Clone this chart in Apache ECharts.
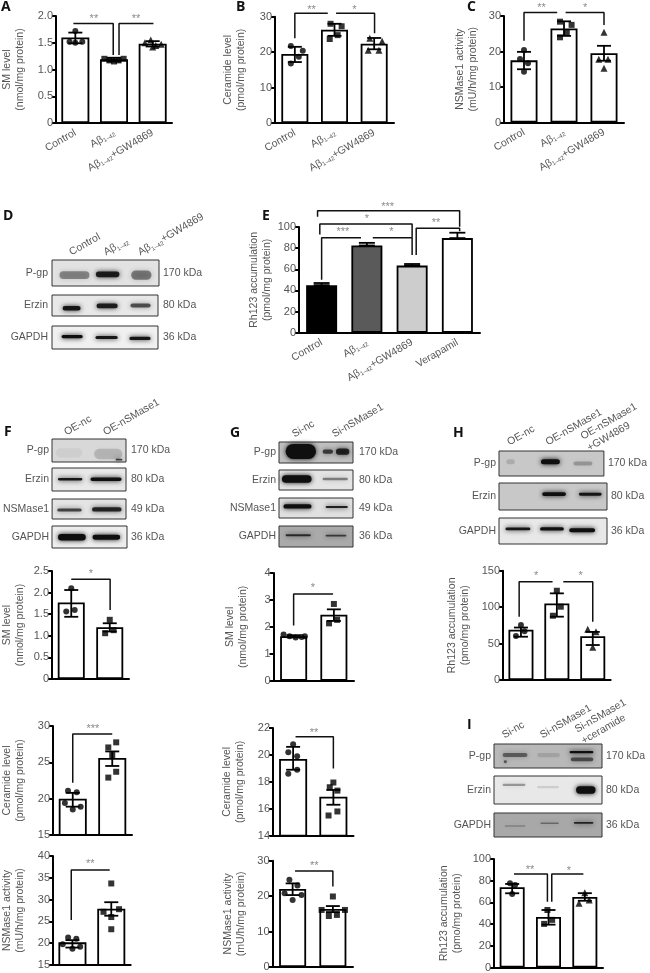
<!DOCTYPE html>
<html><head><meta charset="utf-8">
<style>html,body{margin:0;padding:0;background:#fff}#c{width:650px;height:973px;filter:blur(0.35px)}</style>
<script src="https://cdn.jsdelivr.net/npm/echarts@6/dist/echarts.min.js"></script>
</head><body><div id="c"></div>
<script>
// ---------- categories ----------
const catsAbeta = ['Control','Aβ1–42','Aβ1–42+GW4869'];
const catsE = ['Control','Aβ1–42','Aβ1–42+GW4869','Verapamil'];
const catsF = ['OE-nc','OE-nSMase1'];
const catsG = ['Si-nc','Si-nSMase1'];
const catsH = ['OE-nc','OE-nSMase1','OE-nSMase1\n+GW4869'];
const catsI = ['Si-nc','Si-nSMase1','Si-nSMase1\n+ceramide'];

// ---------- series values: bars, error [group,low,high], points [x,y], brackets [[x,y]...], stars [x,y,text] ----------
const aBars=[1.6,1.19,1.48];
const aErr=[[0,1.49,1.69],[1,1.15,1.22],[2,1.43,1.53]];
const aPts=[[[0,1.72],[-.15,1.52],[.18,1.52],[0,1.5]],[[.75,1.2],[.88,1.17],[1,1.15],[1.12,1.17],[1.25,1.2]],[[1.8,1.5],[1.95,1.55],[2.08,1.45],[2.22,1.47],[2,1.42]]];
const aBrk=[[[-.05,1.86],[.98,1.86],[.98,1.27]],[[1.13,1.27],[1.13,1.86],[2.02,1.86]]];
const aStars=[[.48,1.98,'**'],[1.57,1.98,'**']];

const bBars=[19.5,26.3,22.4];
const bErr=[[0,17.2,21.5],[1,24.6,28],[2,20.8,24]];
const bPts=[[[-.1,21.7],[.2,20.4],[.1,18.7],[-.1,16.8]],[[.9,28],[1.18,27.3],[1.08,24.8],[.88,23.7]],[[1.89,23.9],[2.2,23.1],[1.85,20.5],[2.12,20.5]]];
const bBrk=[[[0,23.9],[0,31],[.83,31]],[[1.04,31],[2.01,31],[2.01,25.3]]];
const bStars=[[.42,32.6,'**'],[1.5,32.6,'*']];

const cBars=[17.5,26.5,19.5];
const cErr=[[0,15,19.9],[1,24.4,28.5],[2,17.4,21.6]];
const cPts=[[[0,20.4],[-.1,17.9],[.1,16.7],[0,14.3]],[[.9,28.4],[1.19,27.5],[1.07,25.3],[.9,24]],[[2,25.4],[1.87,17.8],[2.1,17.8],[2,15.3]]];
const cBrk=[[[0,23],[0,31],[.83,31]],[[1.04,31],[2,31],[2,27.5]]];
const cStars=[[.44,32.8,'**'],[1.53,32.8,'*']];

const eBars=[45,82.5,63.5,89.5];
const eErr=[[0,45,47],[1,82.5,85],[2,63.5,65],[3,89.5,94.6]];
const eBrk=[[[0,50],[0,89.9],[.87,89.9]],[[1.13,89.9],[2,89.9],[2,73.5]],[[-.04,93],[-.04,102.8],[2,102.8],[2,90]],[[2.09,73.5],[2.09,98.8],[3.05,98.8],[3.05,96]],[[-.09,109.8],[-.09,115.4],[3.05,115.4],[3.05,100.3]]];
const eStars=[[1.46,120.8,'***'],[1,109.8,'*'],[.47,97,'***'],[1.54,97,'*'],[2.53,105.7,'**']];

const fSmBars=[1.77,1.2];
const fSmErr=[[0,1.44,2.06],[1,1.1,1.29]];
const fSmPts=[[[0,2.1],[-.13,1.56],[.09,1.6]],[[1,1.37],[.88,1.06],[1.1,1.13]]];
const fSmBrk=[[[0,2.31],[1.01,2.31],[1.01,1.6]]];
const fSmStars=[[.51,2.47,'*']];

const gSmBars=[1.65,2.45];
const gSmErr=[[0,1.61,1.69],[1,2.22,2.65]];
const gSmPts=[[[-.25,1.72],[-.1,1.65],[.05,1.6],[.2,1.62],[.28,1.65]],[[1,2.85],[.88,2.13],[1.08,2.26]]];
const gSmBrk=[[[0,2.05],[0,3.22],[.98,3.22]]];
const gSmStars=[[.48,3.53,'*']];

const fCerBars=[20,25.6];
const fCerErr=[[0,18.9,20.8],[1,24.5,26.5]];
const fCerPts=[[[-.12,21.1],[.1,20.9],[-.2,19.4],[.2,18.9],[0,18.5]],[[1.1,27.75],[.9,27.05],[1,26],[1.1,23.7],[.9,22.9]]];
const fCerBrk=[[[0,22.2],[0,28.9],[1,28.9]]];
const fCerStars=[[.51,29.9,'***']];

const gCerBars=[19.7,16.9];
const gCerErr=[[0,18.9,20.6],[1,16.3,17.4]];
const gCerPts=[[[0,20.8],[-.12,20.2],[.1,19.9],[.1,18.9],[-.12,18.6]],[[1,17.95],[.91,17.6],[1.1,17.35],[1.1,15.8],[.88,15.5]]];
const gCerBrk=[[[.06,21.35],[1,21.35],[1,19]]];
const gCerStars=[[.52,21.8,'**']];

const fNsmBars=[20.2,27.9];
const fNsmErr=[[0,19,20.7],[1,26.3,29.4]];
const fNsmPts=[[[-.11,21.3],[.1,21],[-.25,19.75],[.2,19.2],[0,18.7]],[[1,33.7],[.8,27.2],[1.2,27.8],[1,26],[1,23.2]]];
const fNsmBrk=[[[-.03,25.3],[-.03,36.8],[.96,36.8]]];
const fNsmStars=[[.46,38.6,'**']];

const gNsmBars=[22,16.4];
const gNsmErr=[[0,20.3,23.6],[1,15.5,17.2]];
const gNsmPts=[[[-.08,24.6],[.12,23],[-.2,20.8],[.22,20.3],[0,18.9]],[[1,19.9],[.72,16.1],[1.3,16.1],[.9,14.4],[1.1,14.7]]];
const gNsmBrk=[[[.06,27.1],[1,27.1],[1,22.7]]];
const gNsmStars=[[.54,29.1,'**']];

const hBars=[69,105,60];
const hErr=[[0,59.4,72],[1,86.9,118.9],[2,48,66]];
const hPts=[[[0,75.4],[.1,67],[-.14,60.3]],[[1,122.5],[1.11,100.6],[.89,88.2]],[[1.86,69.5],[2.09,66.3],[2,44.8]]];
const hBrk=[[[-.05,86.8],[-.05,134.9],[.88,134.9]],[[1.18,134.9],[2,134.9],[2,80]]];
const hStars=[[.42,145,'*'],[1.66,145,'*']];

const iBars=[74,46.5,65];
const iErr=[[0,68.4,77],[1,39.5,53],[2,61.5,68.5]];
const iPts=[[[-.06,77.6],[.08,76],[0,67.8]],[[.97,53],[1.1,43.9],[.88,40.2]],[[2,69],[1.84,59.2],[2.12,62.3]]];
const iBrk=[[[.05,86.2],[.97,86.2],[.97,60.7]],[[1.09,60.7],[1.09,86.2],[1.96,86.2]]];
const iStars=[[.49,92,'**'],[1.56,90.5,'*']];

// ---------- western blot band readings: [x0,x1,y,thickness,darkness], all as fractions of the membrane ----------
const dPgp=[[.07,.35,.42,.3,.4],[.41,.63,.45,.22,.9],[.74,.93,.42,.36,.45]];
const dErz=[[.10,.27,.37,.22,.95],[.42,.62,.48,.22,.9],[.74,.93,.5,.18,.65]];
const dGap=[[.09,.29,.54,.14,1],[.41,.62,.5,.14,.95],[.73,.93,.46,.14,.95]];
const fPgp=[[.05,.41,.4,.4,.05],[.57,.95,.35,.45,.16],[.86,.95,.1,.08,.75]];
const fErz=[[.08,.41,.51,.1,.95],[.52,.94,.51,.15,1]];
const fNsm=[[.07,.40,.45,.15,.7],[.54,.94,.48,.22,.85]];
const fGap=[[.08,.45,.49,.3,1],[.54,.91,.49,.22,1]];
const gPgp=[[.09,.50,.55,.72,1],[.59,.73,.54,.2,.7],[.77,.95,.54,.3,.85]];
const gErz=[[.04,.44,.55,.38,1],[.59,.93,.55,.12,.45]];
const gNsm=[[.06,.44,.58,.22,1],[.63,.93,.55,.11,.9]];
const gGap=[[.09,.43,.56,.09,.8],[.63,.91,.54,.09,.7]];
const hPgp=[[.07,.15,.57,.2,.14],[.40,.58,.57,.2,1],[.71,.89,.5,.16,.25]];
const hErz=[[.40,.62,.59,.14,1],[.74,.95,.58,.11,.95]];
const hGap=[[.06,.29,.58,.1,.95],[.38,.60,.58,.12,1],[.65,.89,.53,.16,1]];
const iPgp=[[.08,.31,.54,.16,.5],[.09,.12,.26,.12,.55],[.40,.61,.54,.18,.12],[.70,.92,.66,.09,1],[.71,.92,.36,.16,.6]];
const iErz=[[.08,.29,.68,.08,.35],[.40,.60,.6,.08,.12],[.76,.94,.5,.26,1]];
const iGap=[[.10,.29,.46,.06,.25],[.43,.60,.57,.06,.4],[.74,.92,.59,.07,.85]];

// ---------- layout ----------
const FONT='"Liberation Sans",Arial,sans-serif', TXT='#555';
const SYMS=['circle','rect','triangle'];
const fmt1=v=>v===0?'0':v.toFixed(1), fmt0=v=>String(v);
const panels=[
 {L:52,R:172,T:16,B:123,min:0,max:2,iv:.5,fmt:fmt1,cats:catsAbeta,bars:aBars,err:aErr,pts:aPts,brk:aBrk,stars:aStars,bw:28,gap:29,name:'SM level\n(nmol/mg protein)',lab:true},
 {L:275,R:394,T:16.7,B:123,min:0,max:30,iv:10,fmt:fmt0,cats:catsAbeta,bars:bBars,err:bErr,pts:bPts,brk:bBrk,stars:bStars,bw:27,gap:27,name:'Ceramide level\n(pmol/mg protein)',lab:true},
 {L:504,R:624,T:16,B:122.5,min:0,max:30,iv:10,fmt:fmt0,cats:catsAbeta,bars:cBars,err:cErr,pts:cPts,brk:cBrk,stars:cStars,bw:27,gap:24,name:'NSMase1 activity\n(mU/h/mg protein)',lab:true},
 {L:299,R:480,T:227,B:332.7,min:0,max:100,iv:20,fmt:fmt0,cats:catsE,bars:eBars,err:eErr,brk:eBrk,stars:eStars,bw:31,gap:25,name:'Rh123 accumulation\n(pmol/mg protein)',lab:true,colors:['#000','#5a5a5a','#cdcdcd','#fff'],cap:8},
 {L:48.5,R:129,T:571,B:679,min:0,max:2.5,iv:.5,fmt:fmt1,cats:catsF,bars:fSmBars,err:fSmErr,pts:fSmPts,brk:fSmBrk,stars:fSmStars,bw:27,gap:25,name:'SM level\n(nmol/mg protein)'},
 {L:273.5,R:354,T:573,B:680.7,min:0,max:4,iv:1,fmt:fmt0,cats:catsG,bars:gSmBars,err:gSmErr,pts:gSmPts,brk:gSmBrk,stars:gSmStars,bw:27,gap:24,name:'SM level\n(nmol/mg protein)'},
 {L:503,R:610.7,T:570.7,B:680,min:0,max:150,iv:50,fmt:fmt0,cats:catsH,bars:hBars,err:hErr,pts:hPts,brk:hBrk,stars:hStars,bw:25,gap:31,name:'Rh123 accumulation\n(pmo/mg protein)'},
 {L:49.5,R:132,T:726,B:835,min:15,max:30,iv:5,fmt:fmt0,cats:catsF,bars:fCerBars,err:fCerErr,pts:fCerPts,brk:fCerBrk,stars:fCerStars,bw:28,gap:26,name:'Ceramide level\n(pmol/mg protein)'},
 {L:273,R:353.5,T:728,B:835.7,min:14,max:22,iv:2,fmt:fmt0,cats:catsG,bars:gCerBars,err:gCerErr,pts:gCerPts,brk:gCerBrk,stars:gCerStars,bw:28,gap:26,name:'Ceramide level\n(pmol/mg protein)'},
 {L:48,R:130.7,T:856,B:965,min:15,max:40,iv:5,fmt:fmt0,cats:catsF,bars:fNsmBars,err:fNsmErr,pts:fNsmPts,brk:fNsmBrk,stars:fNsmStars,bw:28,gap:26,name:'NSMase1 activity\n(mU/h/mg protein)'},
 {L:272.5,R:353,T:860.7,B:967,min:0,max:30,iv:10,fmt:fmt0,cats:catsG,bars:gNsmBars,err:gNsmErr,pts:gNsmPts,brk:gNsmBrk,stars:gNsmStars,bw:27,gap:25,name:'NSMase1 activity\n(mU/h/mg protein)'},
 {L:494,R:603,T:859,B:967.7,min:0,max:100,iv:20,fmt:fmt0,cats:catsI,bars:iBars,err:iErr,pts:iPts,brk:iBrk,stars:iStars,bw:25,gap:30,name:'Rh123 accumulation\n(pmo/mg protein)'}
];
const blots=[
 {x0:52,x1:159,y0:260,y1:286,bg:'#e2e2e2',name:'P-gp',kda:'170 kDa',bands:dPgp,lm:4,rm:4},
 {x0:52,x1:158,y0:295,y1:316,bg:'#e8e8e8',name:'Erzin',kda:'80 kDa',bands:dErz,lm:4,rm:5},
 {x0:52,x1:158,y0:326,y1:349,bg:'#f0f0f0',name:'GAPDH',kda:'36 kDa',bands:dGap,lm:4,rm:5},
 {x0:52,x1:126,y0:439,y1:462,bg:'#d8d8d8',name:'P-gp',kda:'170 kDa',bands:fPgp,lm:3,rm:5},
 {x0:52,x1:126,y0:468,y1:491,bg:'#e8e8e8',name:'Erzin',kda:'80 kDa',bands:fErz,lm:3,rm:5},
 {x0:52,x1:126,y0:499,y1:519,bg:'#e4e4e4',name:'NSMase1',kda:'49 kDa',bands:fNsm,lm:3,rm:5},
 {x0:52,x1:127,y0:526,y1:548,bg:'#eeeeee',name:'GAPDH',kda:'36 kDa',bands:fGap,lm:3,rm:4},
 {x0:279,x1:353,y0:442,y1:463,bg:'#c0c0c0',name:'P-gp',kda:'170 kDa',bands:gPgp,lm:3,rm:6},
 {x0:279,x1:353,y0:470,y1:490,bg:'#e4e4e4',name:'Erzin',kda:'80 kDa',bands:gErz,lm:3,rm:6},
 {x0:279,x1:353,y0:498,y1:518,bg:'#e0e0e0',name:'NSMase1',kda:'49 kDa',bands:gNsm,lm:3,rm:6},
 {x0:279,x1:353,y0:526,y1:547,bg:'#aaaaaa',name:'GAPDH',kda:'36 kDa',bands:gGap,lm:3,rm:6},
 {x0:499,x1:607,y0:451,y1:476,bg:'#c8c8c8',name:'P-gp',kda:'170 kDa',bands:hPgp,lm:3,rm:4},
 {x0:499,x1:607,y0:483,y1:510,bg:'#c8c8c8',name:'Erzin',kda:'80 kDa',bands:hErz,lm:3,rm:4},
 {x0:499,x1:607,y0:518,y1:544,bg:'#e8e8e8',name:'GAPDH',kda:'36 kDa',bands:hGap,lm:3,rm:4},
 {x0:494,x1:602,y0:744,y1:768,bg:'#b8b8b8',name:'P-gp',kda:'170 kDa',bands:iPgp,lm:3,rm:4},
 {x0:494,x1:602,y0:776,y1:804,bg:'#e8e8e8',name:'Erzin',kda:'80 kDa',bands:iErz,lm:3,rm:4},
 {x0:494,x1:602,y0:813,y1:837,bg:'#a8a8a8',name:'GAPDH',kda:'36 kDa',bands:iGap,lm:3,rm:4}
];
const laneHeads=[
 {left:53,width:103,top:253,cats:catsAbeta},
 {left:45.5,width:78,top:433,cats:catsF},
 {left:273,width:80,top:435,cats:catsG},
 {left:489,width:115,top:443,cats:catsH},
 {left:484,width:114,top:736,cats:catsI}
];
const letters=[['A',1,0],['B',236,0],['C',467,0],['D',3,209],['E',262,209],['F',4,425],['G',230,426],['H',453,426],['I',467,718]];

// ---------- option building ----------
const grid=[],xAxis=[],yAxis=[],series=[];
const rich={s:{fontSize:6,fontFamily:FONT,color:TXT,verticalAlign:'bottom',padding:[4,0,0,0]}};
const catFmt=v=>v.replace('1–42','{s|1–42}');

panels.forEach(p=>{
  const g=grid.length;
  grid.push({left:p.L,top:p.T,width:p.R-p.L,height:p.B-p.T,containLabel:false});
  const xc=xAxis.length, xv=xc+1, y=yAxis.length;
  xAxis.push({type:'category',gridIndex:g,data:p.cats,position:'bottom',
    axisLine:{lineStyle:{color:'#000',width:2}},axisTick:{alignWithLabel:true,length:4,lineStyle:{color:'#000',width:2}},
    axisLabel:{show:!!p.lab,interval:0,rotate:30,margin:9,fontSize:10.5,fontFamily:FONT,color:TXT,formatter:catFmt,rich,hideOverlap:false}});
  xAxis.push({type:'value',gridIndex:g,show:false,min:-.5,max:p.cats.length-.5,position:'top',splitLine:{show:false}});
  yAxis.push({type:'value',gridIndex:g,min:p.min,max:p.max,interval:p.iv,name:p.name,nameLocation:'middle',nameRotate:90,nameGap:p.gap,
    nameTextStyle:{fontSize:10.5,lineHeight:13,fontFamily:FONT,color:TXT,align:'center'},
    axisLine:{show:true,onZero:false,lineStyle:{color:'#000',width:2}},axisTick:{show:true,length:4,lineStyle:{color:'#000',width:2}},
    axisLabel:{fontSize:11,margin:3,fontFamily:FONT,color:TXT,formatter:p.fmt},splitLine:{show:false}});
  series.push({type:'bar',xAxisIndex:xc,yAxisIndex:y,barWidth:p.bw,z:2,silent:true,
    data:p.bars.map((v,i)=>({value:v,itemStyle:{color:p.colors?p.colors[i]:'#fff',borderColor:'#000',borderWidth:1.8}}))});
  const cap=p.cap||7;
  series.push({type:'custom',xAxisIndex:xv,yAxisIndex:y,z:3,silent:true,data:p.err,encode:{x:0,y:[1,2]},
    renderItem:(c,api)=>{
      const a=api.coord([api.value(0),api.value(1)]),b=api.coord([api.value(0),api.value(2)]);
      const st={stroke:'#000',lineWidth:1.8};
      return {type:'group',children:[
        {type:'line',shape:{x1:a[0],y1:a[1],x2:b[0],y2:b[1]},style:st},
        {type:'line',shape:{x1:a[0]-cap,y1:a[1],x2:a[0]+cap,y2:a[1]},style:st},
        {type:'line',shape:{x1:b[0]-cap,y1:b[1],x2:b[0]+cap,y2:b[1]},style:st}]};
    }});
  (p.pts||[]).forEach((d,i)=>series.push({type:'scatter',xAxisIndex:xv,yAxisIndex:y,z:4,silent:true,clip:false,
    symbol:SYMS[i],symbolSize:i==2?7:6,itemStyle:{color:'#000'},data:d}));
  p.brk.forEach(d=>series.push({type:'line',xAxisIndex:xv,yAxisIndex:y,z:5,silent:true,clip:false,showSymbol:false,symbol:'none',
    lineStyle:{color:'#111',width:1.5},data:d}));
  const stars=p.stars;
  series.push({type:'custom',xAxisIndex:xv,yAxisIndex:y,z:5,silent:true,clip:false,data:stars.map(s=>[s[0],s[1]]),encode:{x:0,y:1},
    renderItem:(c,api)=>{
      const q=api.coord([api.value(0),api.value(1)]);
      return {type:'text',x:q[0],y:q[1]+2,style:{text:stars[c.dataIndex][2],fontSize:11,fontFamily:FONT,fill:'#8a8a8a',textAlign:'center',textVerticalAlign:'middle'}};
    }});
});

blots.forEach(b=>{
  const g=grid.length;
  grid.push({show:true,left:b.x0,top:b.y0,width:b.x1-b.x0,height:b.y1-b.y0,backgroundColor:b.bg,borderColor:'#333',borderWidth:1,containLabel:false});
  const x=xAxis.length,y=yAxis.length;
  xAxis.push({type:'value',gridIndex:g,show:false,min:0,max:1,splitLine:{show:false}});
  const side={axisLine:{show:false},axisTick:{show:false}};
  yAxis.push({type:'category',gridIndex:g,data:[b.name],position:'left',...side,axisLabel:{margin:b.lm,fontSize:10.5,fontFamily:FONT,color:TXT}});
  yAxis.push({type:'category',gridIndex:g,data:[b.kda],position:'right',...side,axisLabel:{margin:b.rm,fontSize:10.5,fontFamily:FONT,color:TXT}});
  yAxis.push({type:'value',gridIndex:g,show:false,min:0,max:1,splitLine:{show:false}});
  series.push({type:'custom',xAxisIndex:x,yAxisIndex:y+2,silent:true,z:1,data:b.bands,encode:{x:[0,1],y:2},
    renderItem:(c,api)=>{
      const a=api.coord([api.value(0),api.value(2)+api.value(3)/2]),e=api.coord([api.value(1),api.value(2)-api.value(3)/2]);
      const d=api.value(4),col=`rgba(15,15,15,${d})`,h=e[1]-a[1];
      return {type:'rect',shape:{x:a[0],y:a[1],width:e[0]-a[0],height:h,r:h/2},style:{fill:col,shadowBlur:5,shadowColor:col}};
    }});
});

laneHeads.forEach(h=>{
  const g=grid.length;
  grid.push({left:h.left,top:h.top,width:h.width,height:1,containLabel:false});
  xAxis.push({type:'category',gridIndex:g,data:h.cats,position:'top',axisLine:{show:false},axisTick:{show:false},
    axisLabel:{interval:0,rotate:30,margin:0,fontSize:10.5,lineHeight:13,fontFamily:FONT,color:TXT,formatter:catFmt,rich,hideOverlap:false}});
  yAxis.push({type:'value',gridIndex:g,show:false});
});

const graphic=letters.map(l=>({type:'text',left:l[1],top:l[2],style:{text:l[0],fontSize:14,fontWeight:'bold',fontFamily:'"Open Sans",sans-serif',fill:'#111'}}));

const chart=echarts.init(document.getElementById('c'),null,{renderer:'canvas'});
chart.setOption({animation:false,backgroundColor:'#fff',grid,xAxis,yAxis,series,graphic});
</script></body></html>
